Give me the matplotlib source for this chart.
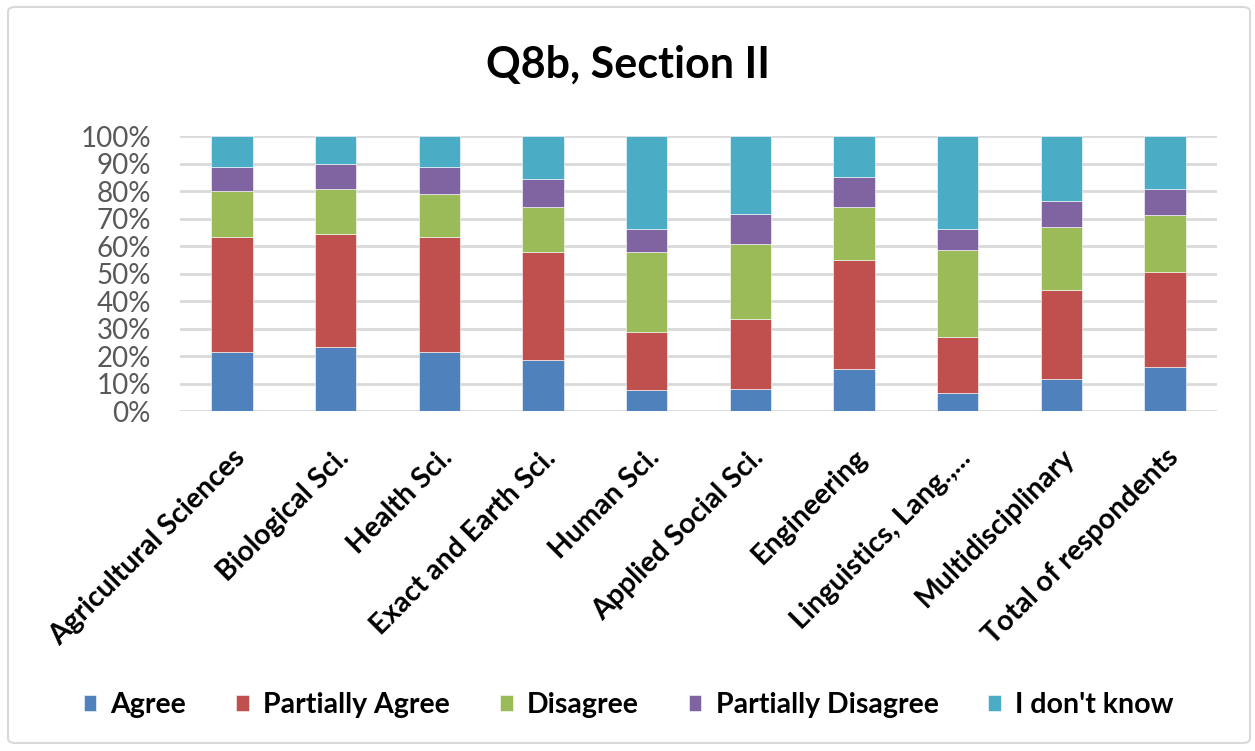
import matplotlib
matplotlib.use("Agg")
import matplotlib.pyplot as plt
from matplotlib.patches import FancyBboxPatch
from matplotlib.ticker import PercentFormatter
import numpy as np

plt.rcParams['font.family'] = ['Lato', 'DejaVu Sans']

categories = ["Agricultural Sciences", "Biological Sci.", "Health Sci.", "Exact and Earth Sci.",
              "Human Sci.", "Applied Social Sci.", "Engineering", "Linguistics, Lang.,...",
              "Multidisciplinary", "Total of respondents"]
series_names = ["Agree", "Partially Agree", "Disagree", "Partially Disagree", "I don't know"]
agree = [21.5, 23.3, 21.5, 18.4, 7.6, 8.1, 15.4, 6.4, 11.8, 16.0]
partially_agree = [41.7, 41.2, 41.7, 39.4, 21.1, 25.5, 39.4, 20.5, 32.1, 34.5]
disagree = [16.9, 16.3, 15.8, 16.4, 29.1, 27.2, 19.4, 31.5, 23.0, 20.7]
partially_disagree = [8.5, 9.0, 9.6, 10.2, 8.4, 11.0, 10.8, 7.8, 9.6, 9.5]
dont_know = [11.4, 10.2, 11.4, 15.6, 33.8, 28.2, 15.0, 33.8, 23.5, 19.3]
colors = ["#4F81BD", "#C0504D", "#9BBB59", "#8064A2", "#4BACC6"]

fig = plt.figure(figsize=(12.55, 7.51), dpi=100)
fig.patch.set_facecolor("white")
border = FancyBboxPatch((8/1255, 8/751), 1242/1255, 736/751,
                        boxstyle="round,pad=0,rounding_size=0.006",
                        transform=fig.transFigure, fill=False,
                        edgecolor="#D9D9D9", linewidth=1.5)
fig.patches.append(border)

ax = fig.add_axes([180/1255, 1-411/751, 1037/1255, 275/751])
x = np.arange(len(categories))
bottom = np.zeros(len(categories))
for name, vals, c in zip(series_names,
                         [agree, partially_agree, disagree, partially_disagree, dont_know],
                         colors):
    v = np.array(vals) / 100.0
    ax.bar(x, v, width=0.4, bottom=bottom, color=c, label=name, zorder=3,
           edgecolor="white", linewidth=0.4)
    bottom += v

ax.set_xlim(-0.5, len(categories) - 0.5)
ax.set_ylim(0, 1)
ax.set_yticks(np.arange(0, 1.01, 0.1))
ax.yaxis.set_major_formatter(PercentFormatter(1.0, decimals=0))
ax.grid(axis="y", color="#D9D9D9", linewidth=2, zorder=0)
for s in ax.spines.values():
    s.set_visible(False)
ax.tick_params(axis="y", length=0, pad=21, labelsize=20, labelcolor="#595959")
ax.tick_params(axis="x", length=0, pad=24)
ax.set_xticks(x)
ax.set_xticklabels(categories, rotation=45, ha="right", va="top",
                   rotation_mode="anchor", fontsize=20.5, fontweight="bold", color="black")

fig.text(0.5, 1-65/751, "Q8b, Section II", ha="center", va="center",
         fontsize=31, fontweight="bold", color="black")

fig.legend(loc="center", bbox_to_anchor=(0.501, 1-705/751), ncol=5, frameon=False,
           prop={"weight": "bold", "size": 20.5},
           handlelength=0.45, handleheight=0.45, handletextpad=0.5, columnspacing=1.75)

fig.savefig("out.png", dpi=100, facecolor="white")
